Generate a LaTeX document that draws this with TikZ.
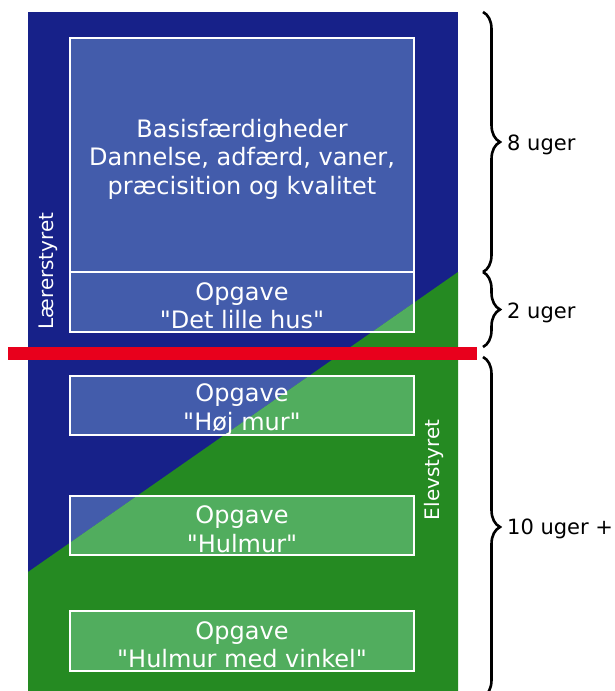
\documentclass[tikz,border=0pt]{standalone}
\usepackage{fontspec}
\setmainfont{DejaVu Sans}
\usetikzlibrary{decorations.pathreplacing}
\definecolor{navy}{RGB}{23,33,137}
\definecolor{grn}{RGB}{37,138,34}
\definecolor{boxblue}{RGB}{67,92,171}
\definecolor{boxgreen}{RGB}{81,173,94}
\definecolor{redbar}{RGB}{232,0,28}
\newcommand{\qq}{\textquotedbl}
\begin{document}
\begin{tikzpicture}[x=1pt,y=-1pt,
  taskbox/.style={draw=white, line width=1.3pt, minimum width=344pt, inner sep=0pt},
  boxtext/.style={text=white, font=\fontsize{24}{28.5}\selectfont, align=center, inner sep=0pt, yshift=-4pt},
  weeks/.style={font=\fontsize{21}{25}\selectfont, anchor=base west, inner sep=0pt},
  sidelabel/.style={text=white, font=\fontsize{20}{24}\selectfont, rotate=90, inner sep=0pt},
  bracestyle/.style={decorate, decoration={brace, amplitude=17pt}, line width=2.6pt}]
\useasboundingbox (0,0) rectangle (615,691);
\clip (0,0) rectangle (615,691);
% column halves
\fill[navy] (28,12) rectangle (458,691);
\fill[grn] (28,572) -- (458,272) -- (458,691) -- (28,691) -- cycle;
% box fills, two tints split by the diagonal
\begin{scope}
  \clip (28,12) -- (458,12) -- (458,272) -- (28,572) -- cycle;
  \foreach \t/\b in {38/272, 272/332, 376/435, 496/555, 611/671}
    \fill[boxblue] (70,\t) rectangle (414,\b);
\end{scope}
\begin{scope}
  \clip (28,572) -- (458,272) -- (458,691) -- (28,691) -- cycle;
  \foreach \t/\b in {38/272, 272/332, 376/435, 496/555, 611/671}
    \fill[boxgreen] (70,\t) rectangle (414,\b);
\end{scope}
% boxes
\node[taskbox, minimum height=234pt] (b1) at (242,155) {};
\node[taskbox, minimum height=60pt] (b2) at (242,302) {};
\node[taskbox, minimum height=59pt] (b3) at (242,405.5) {};
\node[taskbox, minimum height=59pt] (b4) at (242,525.5) {};
\node[taskbox, minimum height=60pt] (b5) at (242,641) {};
% box texts
\node[boxtext] (t1) at (b1.center) {Basisfærdigheder\\Dannelse, adfærd, vaner,\\præcisition og kvalitet};
\node[boxtext] (t2) at (b2.center) {Opgave\\\qq Det lille hus\qq};
\node[boxtext] (t3) at (b3.center) {Opgave\\\qq Høj mur\qq};
\node[boxtext] (t4) at (b4.center) {Opgave\\\qq Hulmur\qq};
\node[boxtext] (t5) at (b5.center) {Opgave\\\qq Hulmur med vinkel\qq};
% side labels
\node[sidelabel] (ls) at (48,271) {Lærerstyret};
\node[sidelabel] (es) at (434,470) {Elevstyret};
% red bar
\node[fill=redbar, minimum width=469pt, minimum height=13pt, inner sep=0pt] (bar) at (242.5,353.5) {};
% braces
\draw[bracestyle] (483,12) -- (483,272);
\draw[bracestyle] (483,272) -- (483,347);
\draw[bracestyle] (483,357) -- (483,697);
% week labels
\node[weeks] (w1) at (507,150) {8 uger};
\node[weeks] (w2) at (507,318) {2 uger};
\node[weeks] (w3) at (507,534) {10 uger +};
\end{tikzpicture}
\end{document}
